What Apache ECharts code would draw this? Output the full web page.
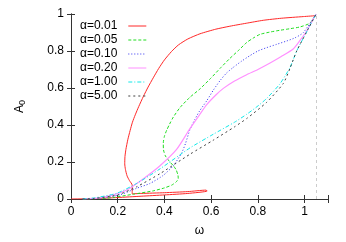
<!DOCTYPE html>
<html><head><meta charset="utf-8">
<script src="https://cdn.jsdelivr.net/npm/echarts@6/dist/echarts.min.js"></script>
<style>html,body{margin:0;padding:0;background:#fff}#c{width:346px;height:242px}</style>
</head><body><div id="c"></div>
<script>
const xTicks = [0, 0.2, 0.4, 0.6, 0.8, 1.0];
const yTicks = [0, 0.2, 0.4, 0.6, 0.8, 1.0];
const seriesNames = ['α=0.01','α=0.05','α=0.10','α=0.20','α=1.00','α=5.00'];

const w001 = [0.00,0.10,0.20,0.30,0.40,0.50,0.583,0.578,0.50,0.40,0.30,0.262,0.262,0.250,0.240,0.233,0.230,0.231,0.235,0.243,0.253,0.263,0.275,0.29,0.31,0.33,0.352,0.375,0.40,0.43,0.46,0.50,0.552,0.62,0.68,0.75,0.823,0.9,0.994,1.049];
const a001 = [0.00,0.002,0.008,0.015,0.022,0.030,0.043,0.048,0.040,0.034,0.030,0.028,0.075,0.10,0.125,0.16,0.19,0.23,0.268,0.32,0.37,0.415,0.455,0.50,0.555,0.605,0.655,0.705,0.752,0.797,0.833,0.865,0.893,0.918,0.934,0.95,0.966,0.977,0.986,0.991];

const w005 = [0.05,0.123,0.18,0.267,0.352,0.40,0.431,0.450,0.459,0.458,0.450,0.438,0.420,0.404,0.396,0.395,0.400,0.41,0.422,0.438,0.467,0.509,0.552,0.60,0.638,0.68,0.716,0.752,0.78,0.809,0.85,0.894,0.94,0.98,1.023,1.049];
const a005 = [0.00,0.002,0.008,0.026,0.044,0.06,0.075,0.092,0.11,0.128,0.158,0.18,0.205,0.233,0.265,0.303,0.34,0.373,0.405,0.443,0.495,0.55,0.595,0.655,0.706,0.76,0.802,0.846,0.87,0.89,0.902,0.912,0.921,0.93,0.951,1.0];

const w010 = [0.05,0.124,0.21,0.281,0.338,0.395,0.438,0.474,0.49,0.509,0.53,0.55,0.581,0.61,0.638,0.665,0.695,0.73,0.766,0.8,0.837,0.88,0.923,0.96,0.994,1.049];
const a010 = [0.00,0.004,0.023,0.058,0.084,0.128,0.18,0.25,0.30,0.375,0.43,0.475,0.531,0.59,0.64,0.68,0.712,0.745,0.775,0.80,0.818,0.836,0.854,0.872,0.899,1.0];

const w020 = [0.05,0.124,0.18,0.239,0.31,0.381,0.452,0.509,0.55,0.581,0.62,0.652,0.7,0.752,0.8,0.852,0.9,0.951,0.98,1.008,1.049];
const a020 = [0.00,0.006,0.022,0.049,0.11,0.18,0.268,0.38,0.455,0.51,0.562,0.598,0.638,0.672,0.70,0.735,0.77,0.811,0.857,0.907,1.0];

const w100 = [0.05,0.10,0.196,0.281,0.381,0.509,0.609,0.70,0.752,0.80,0.837,0.894,0.937,0.966,1.008,1.049];
const a100 = [0.00,0.006,0.031,0.084,0.163,0.276,0.35,0.415,0.458,0.503,0.543,0.622,0.71,0.80,0.902,1.0];

const w500 = [0.05,0.10,0.20,0.281,0.381,0.509,0.609,0.70,0.752,0.837,0.909,0.937,0.966,1.008,1.049];
const a500 = [0.00,0.003,0.022,0.066,0.137,0.242,0.318,0.39,0.435,0.522,0.625,0.705,0.80,0.902,1.0];

const limitOmega = 1.049;

const zip = (xs, ys) => xs.map((x, i) => [x, ys[i]]);
const allW = [w001, w005, w010, w020, w100, w500];
const allA = [a001, a005, a010, a020, a100, a500];
const colors = ['#ff2828', '#20dd20', '#3030f0', '#ff90ff', '#10e8e8', '#404040'];
const dashes = ['solid', [3, 2], [1, 2], 'solid', [4, 2, 1, 2], [2, 3]];
const widths = [1, 1, 1, 1.2, 1, 1];

const chart = echarts.init(document.getElementById('c'));
const font = 'Liberation Sans, Arial, sans-serif';
const axisCommon = {
  type: 'value', min: 0, interval: 0.2,
  axisLine: {show: true, lineStyle: {color: '#333', width: 1}},
  axisTick: {show: true, inside: true, length: 4, lineStyle: {color: '#333'}},
  splitLine: {show: false}
};
const series = seriesNames.map((n, i) => ({
  name: n, type: 'line', data: zip(allW[i], allA[i]), showSymbol: false, symbol: 'none',
  smooth: 0.2,
  lineStyle: {color: colors[i], width: widths[i], type: dashes[i]},
  itemStyle: {color: colors[i]}, animation: false, z: 3
}));
series[0].markLine = {
  silent: true, symbol: 'none', label: {show: false}, animation: false,
  lineStyle: {color: '#cccccc', type: [3, 3], width: 1},
  data: [{xAxis: limitOmega}]
};
chart.setOption({
  animation: false,
  grid: {left: 71, right: 18, top: 14, bottom: 38},
  legend: {
    orient: 'vertical', left: 80, top: 20, align: 'right', padding: 0,
    itemWidth: 18, itemHeight: 10, itemGap: 2,
    itemStyle: {opacity: 0},
    lineStyle: {width: 1},
    textStyle: {fontFamily: font, fontSize: 12, color: '#000', padding: [0, 6, 0, 0]},
    data: seriesNames
  },
  xAxis: [
    Object.assign({}, axisCommon, {position: 'bottom', max: 1.1,
      name: 'ω', nameLocation: 'middle', nameGap: 26,
      nameTextStyle: {fontFamily: font, fontSize: 12, color: '#000'},
      axisLabel: {fontFamily: font, fontSize: 12, color: '#000', margin: 7,
        formatter: v => xTicks.includes(+v.toFixed(2)) ? String(+v.toFixed(1)) : ''}}),
    Object.assign({}, axisCommon, {position: 'top', max: 1.1, axisLabel: {show: false}})
  ],
  yAxis: [
    Object.assign({}, axisCommon, {position: 'left', max: 1,
      name: 'A{s|0}', nameLocation: 'middle', nameGap: 44, nameRotate: 90,
      nameTextStyle: {fontFamily: font, fontSize: 12, color: '#000',
        rich: {s: {fontFamily: font, fontSize: 9, verticalAlign: 'bottom', padding: [6, 0, 0, 0]}}},
      axisLabel: {fontFamily: font, fontSize: 12, color: '#000', margin: 7,
        formatter: v => yTicks.includes(+v.toFixed(2)) ? String(+v.toFixed(1)) : ''}}),
    Object.assign({}, axisCommon, {position: 'right', max: 1, axisLabel: {show: false}})
  ],
  series: series
});
</script></body></html>
